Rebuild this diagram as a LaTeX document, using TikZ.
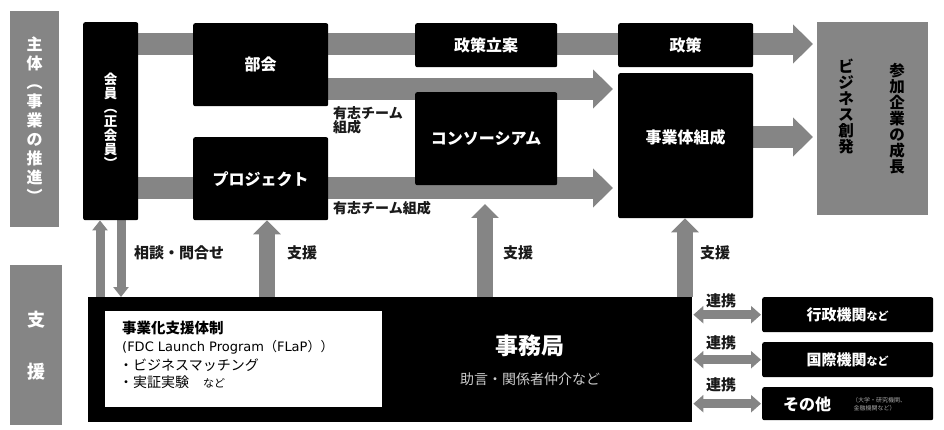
\documentclass[tikz,border=0pt]{standalone}
\usepackage{fontspec}
\setmainfont{Noto Sans CJK JP}
\newfontfamily\latfont{DejaVu Sans}
\usetikzlibrary{arrows.meta,backgrounds,calc}
\definecolor{tex}{HTML}{858585}
\definecolor{txt}{HTML}{1A1A1A}
\begin{document}
\begin{tikzpicture}[x=1pt,y=-1pt,
  blk/.style={fill=black, text=white, rounded corners=2pt, anchor=north west, inner sep=0pt,
    font=\bfseries\fontsize{16}{19}\selectfont, align=center},
  grybox/.style={fill=tex, anchor=north west, inner sep=0pt, align=center},
  harrow/.style={draw=tex, line width=22pt, -{Triangle[width=38pt,length=20pt]}},
  varrow/.style={draw=tex, line width=16pt, -{Triangle[width=27pt,length=14pt]}},
  sarrow/.style={draw=tex, line width=9pt, -{Triangle[width=15pt,length=10pt]}},
  darrow/.style={draw=tex, line width=9pt, {Triangle[width=17pt,length=10pt]}-{Triangle[width=17pt,length=10pt]}},
  lbl/.style={text=txt, inner sep=0pt, font=\bfseries\fontsize{15}{17}\selectfont},
  blbl/.style={text=txt, inner sep=0pt, font=\bfseries\fontsize{14}{16}\selectfont}
]
\useasboundingbox (0,0) rectangle (944,430);

% side labels
\node[grybox, minimum width=49pt, minimum height=216pt, text=white,
  font=\bfseries\fontsize{16}{19}\selectfont] (lblA) at (10,11)
  {主\\体\\︵\\事\\業\\の\\推\\進\\︶};
\node[grybox, minimum width=52pt, minimum height=160pt, text=white,
  font=\bfseries\fontsize{18}{52}\selectfont] (lblB) at (10,265)
  {支\\援};

% upper boxes
\node[blk, minimum width=55pt, minimum height=198pt, font=\bfseries\fontsize{13.5}{14}\selectfont] (kaiin) at (83,22)
  {会\\員\\︵\\正\\会\\員\\︶};
\node[blk, minimum width=135pt, minimum height=83pt] (bukai) at (193,23) {部会};
\node[blk, minimum width=135pt, minimum height=83pt] (proj) at (193,137) {プロジェクト};
\node[blk, minimum width=142pt, minimum height=44pt] (ritsuan) at (415,23) {政策立案};
\node[blk, minimum width=142pt, minimum height=93pt] (cons) at (415,92) {コンソーシアム};
\node[blk, minimum width=135pt, minimum height=44pt] (seisaku) at (618,23) {政策};
\node[blk, minimum width=135pt, minimum height=145pt] (jigyo) at (618,73) {};
\node[text=white, inner sep=0pt, font=\bfseries\fontsize{16}{19}\selectfont] (jigyoT) at (685.5,137) {事業体組成};

% right result box
\node[grybox, minimum width=111pt, minimum height=193pt] (result) at (817,22) {};
\node[inner sep=0pt, align=center, text=black, font=\bfseries\fontsize{15.5}{16}\selectfont, anchor=north] (resA) at (897,63)
  {参\\加\\企\\業\\の\\成\\長};
\node[inner sep=0pt, align=center, text=black, font=\bfseries\fontsize{15.5}{16}\selectfont, anchor=north] (resB) at (846,59)
  {ビ\\ジ\\ネ\\ス\\創\\発};

% lower box
\node[fill=black, anchor=north west, inner sep=0pt, minimum width=604pt, minimum height=125pt] (jimu) at (88,297) {};
\node[fill=white, anchor=north west, inner sep=0pt, minimum width=277pt, minimum height=96pt] (flap) at (105,311) {};
\node[anchor=west, inner sep=0pt, text=black, font=\bfseries\fontsize{14.5}{16}\selectfont] (flapT) at (122,328) {事業化支援体制};
\node[anchor=west, inner sep=0pt, text=black, font=\fontsize{13}{15}\selectfont] (flapA) at (122,347) {{\latfont(FDC Launch Program}（{\latfont FLaP}））};
\node[anchor=west, inner sep=0pt, text=black, font=\fontsize{14}{15}\selectfont] (flapB) at (119,365) {・ビジネスマッチング};
\node[anchor=west, inner sep=0pt, text=black, font=\fontsize{14}{15}\selectfont] (flapC) at (119,382) {・実証実験\quad\fontsize{11}{12}\selectfont など};
\node[inner sep=0pt, text=white, font=\bfseries\fontsize{23}{25}\selectfont] (jimuT) at (530,346) {事務局};
\node[inner sep=0pt, text=white!80!black, font=\fontsize{14}{15}\selectfont] (jimuS) at (530,379) {助言・関係者仲介など};

% partner boxes
\node[blk, minimum width=171pt, minimum height=35pt, font=\bfseries\fontsize{15}{17}\selectfont] (gyosei) at (762,297) {行政機関\fontsize{11}{12}\selectfont など};
\node[blk, minimum width=171pt, minimum height=35pt, font=\bfseries\fontsize{15}{17}\selectfont] (kokusai) at (762,342) {国際機関\fontsize{11}{12}\selectfont など};
\node[blk, minimum width=171pt, minimum height=33pt] (sonota) at (762,387) {};
\node[inner sep=0pt, text=white, font=\bfseries\fontsize{16}{18}\selectfont, anchor=west] (sonotaT) at (783,404) {その他};
\node[inner sep=0pt, text=white!65!black, align=left, font=\fontsize{6}{7.5}\selectfont, anchor=west] (sonotaS) at (852,404) {（大学・研究機関、\\\ 金融機関など）};

% labels
\node[lbl, anchor=west] (sodan) at (134,253) {相談・問合せ};
\node[lbl, anchor=west] (shienA) at (287,253) {支援};
\node[lbl, anchor=west] (shienB) at (503,253) {支援};
\node[lbl, anchor=west] (shienC) at (700,253) {支援};
\node[blbl, anchor=north west, align=left, font=\bfseries\fontsize{14}{13}\selectfont] (yushiA) at (333,106) {有志チーム\\組成};
\node[blbl, anchor=north west] (yushiB) at (333,201) {有志チーム組成};
\node[blbl, anchor=west, font=\bfseries\fontsize{15}{17}\selectfont] (renA) at (706,301) {連携};
\node[blbl, anchor=west, font=\bfseries\fontsize{15}{17}\selectfont] (renB) at (706,343) {連携};
\node[blbl, anchor=west, font=\bfseries\fontsize{15}{17}\selectfont] (renC) at (706,385) {連携};

% helper coordinates
\coordinate (yA) at (0,44);
\coordinate (yB) at (0,89);
\coordinate (yC) at (0,188);
\coordinate (yD) at (0,137);
\coordinate (x1) at (100,0);
\coordinate (x2) at (121,0);
\coordinate (x3) at (267,0);
\coordinate (x5) at (685,0);
\coordinate (consTip) at (485,204);

\begin{scope}[on background layer]
  \draw[harrow, shorten >=4pt] (kaiin.east |- yA) -- (result.west |- yA);
  \draw[harrow, shorten >=5pt] (bukai.east |- yB) -- (jigyo.west |- yB);
  \draw[harrow, shorten >=5pt] (kaiin.east |- yC) -- (jigyo.west |- yC);
  \draw[harrow, shorten >=4pt] (jigyo.east |- yD) -- (result.west |- yD);
  \draw[sarrow] (jimu.north -| x1) -- (kaiin.south -| x1);
  \draw[sarrow] (kaiin.south -| x2) -- (jimu.north -| x2);
  \draw[varrow] (jimu.north -| x3) -- (proj.south -| x3);
  \draw[varrow] (jimu.north -| consTip) -- (consTip);
  \draw[varrow] (jimu.north -| x5) -- (jigyo.south -| x5);
  \draw[darrow, shorten <=1pt, shorten >=1pt] (jimu.east |- gyosei.center) -- (gyosei.west);
  \draw[darrow, shorten <=1pt, shorten >=1pt] (jimu.east |- kokusai.center) -- (kokusai.west);
  \draw[darrow, shorten <=1pt, shorten >=1pt] (jimu.east |- sonota.center) -- (sonota.west);
\end{scope}
\end{tikzpicture}
\end{document}
